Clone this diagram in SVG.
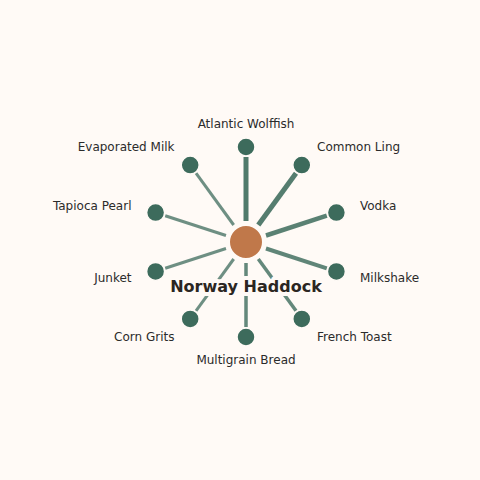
<svg xmlns="http://www.w3.org/2000/svg" width="480" height="480" viewBox="0 0 480 480">
<style>
.lbl{font-family:"DejaVu Sans",sans-serif;font-size:12px;fill:#2b2b2b;dominant-baseline:central}
.node{fill:#3d6b5c;stroke:#fffaf6;stroke-width:1.5}
.edge{stroke:#3d6b5c;stroke-linecap:butt}
.title{font-family:"DejaVu Sans",sans-serif;font-size:16px;font-weight:bold;fill:#2b2622;text-anchor:middle;dominant-baseline:central;stroke:#fffaf6;stroke-width:8;stroke-linejoin:round;paint-order:stroke}
</style>
<rect width="480" height="480" fill="#fffaf6"/>
<g id="connectors">
<line class="edge" x1="246" y1="221" x2="246" y2="157" stroke-width="5" stroke-opacity="0.9"/>
<line class="edge" x1="258.3" y1="225" x2="296" y2="173.2" stroke-width="5" stroke-opacity="0.88"/>
<line class="edge" x1="266" y1="235.5" x2="326.8" y2="215.7" stroke-width="4.5" stroke-opacity="0.85"/>
<line class="edge" x1="266" y1="248.5" x2="326.8" y2="268.3" stroke-width="4" stroke-opacity="0.82"/>
<line class="edge" x1="258.3" y1="259" x2="296" y2="310.8" stroke-width="3.5" stroke-opacity="0.8"/>
<line class="edge" x1="246" y1="263" x2="246" y2="327" stroke-width="3.5" stroke-opacity="0.8"/>
<line class="edge" x1="233.7" y1="259" x2="196" y2="310.8" stroke-width="3" stroke-opacity="0.75"/>
<line class="edge" x1="226" y1="248.5" x2="165.2" y2="268.3" stroke-width="3" stroke-opacity="0.75"/>
<line class="edge" x1="226" y1="235.5" x2="165.2" y2="215.7" stroke-width="3" stroke-opacity="0.75"/>
<line class="edge" x1="233.7" y1="225" x2="196" y2="173.2" stroke-width="3" stroke-opacity="0.75"/>
</g>
<g id="center">
<circle cx="246" cy="242" r="17" fill="#c0784a" stroke="#fffaf6" stroke-width="2"/>
<text class="title" x="246" y="286">Norway Haddock</text>
</g>
<g id="n0"><circle class="node" cx="246" cy="147" r="9"/><text class="lbl" x="246" y="124" text-anchor="middle">Atlantic Wolffish</text></g>
<g id="n1"><circle class="node" cx="301.8" cy="165.1" r="9"/><text class="lbl" x="317" y="147">Common Ling</text></g>
<g id="n2"><circle class="node" cx="336.4" cy="212.6" r="9"/><text class="lbl" x="360" y="206">Vodka</text></g>
<g id="n3"><circle class="node" cx="336.4" cy="271.4" r="9"/><text class="lbl" x="360" y="278">Milkshake</text></g>
<g id="n4"><circle class="node" cx="301.8" cy="318.9" r="9"/><text class="lbl" x="317" y="337">French Toast</text></g>
<g id="n5"><circle class="node" cx="246" cy="337" r="9"/><text class="lbl" x="246" y="360" text-anchor="middle">Multigrain Bread</text></g>
<g id="n6"><circle class="node" cx="190.2" cy="318.9" r="9"/><text class="lbl" x="174.5" y="337" text-anchor="end">Corn Grits</text></g>
<g id="n7"><circle class="node" cx="155.6" cy="271.4" r="9"/><text class="lbl" x="131.5" y="278" text-anchor="end">Junket</text></g>
<g id="n8"><circle class="node" cx="155.6" cy="212.6" r="9"/><text class="lbl" x="131.5" y="206" text-anchor="end">Tapioca Pearl</text></g>
<g id="n9"><circle class="node" cx="190.2" cy="165.1" r="9"/><text class="lbl" x="174.5" y="147" text-anchor="end">Evaporated Milk</text></g>
</svg>
